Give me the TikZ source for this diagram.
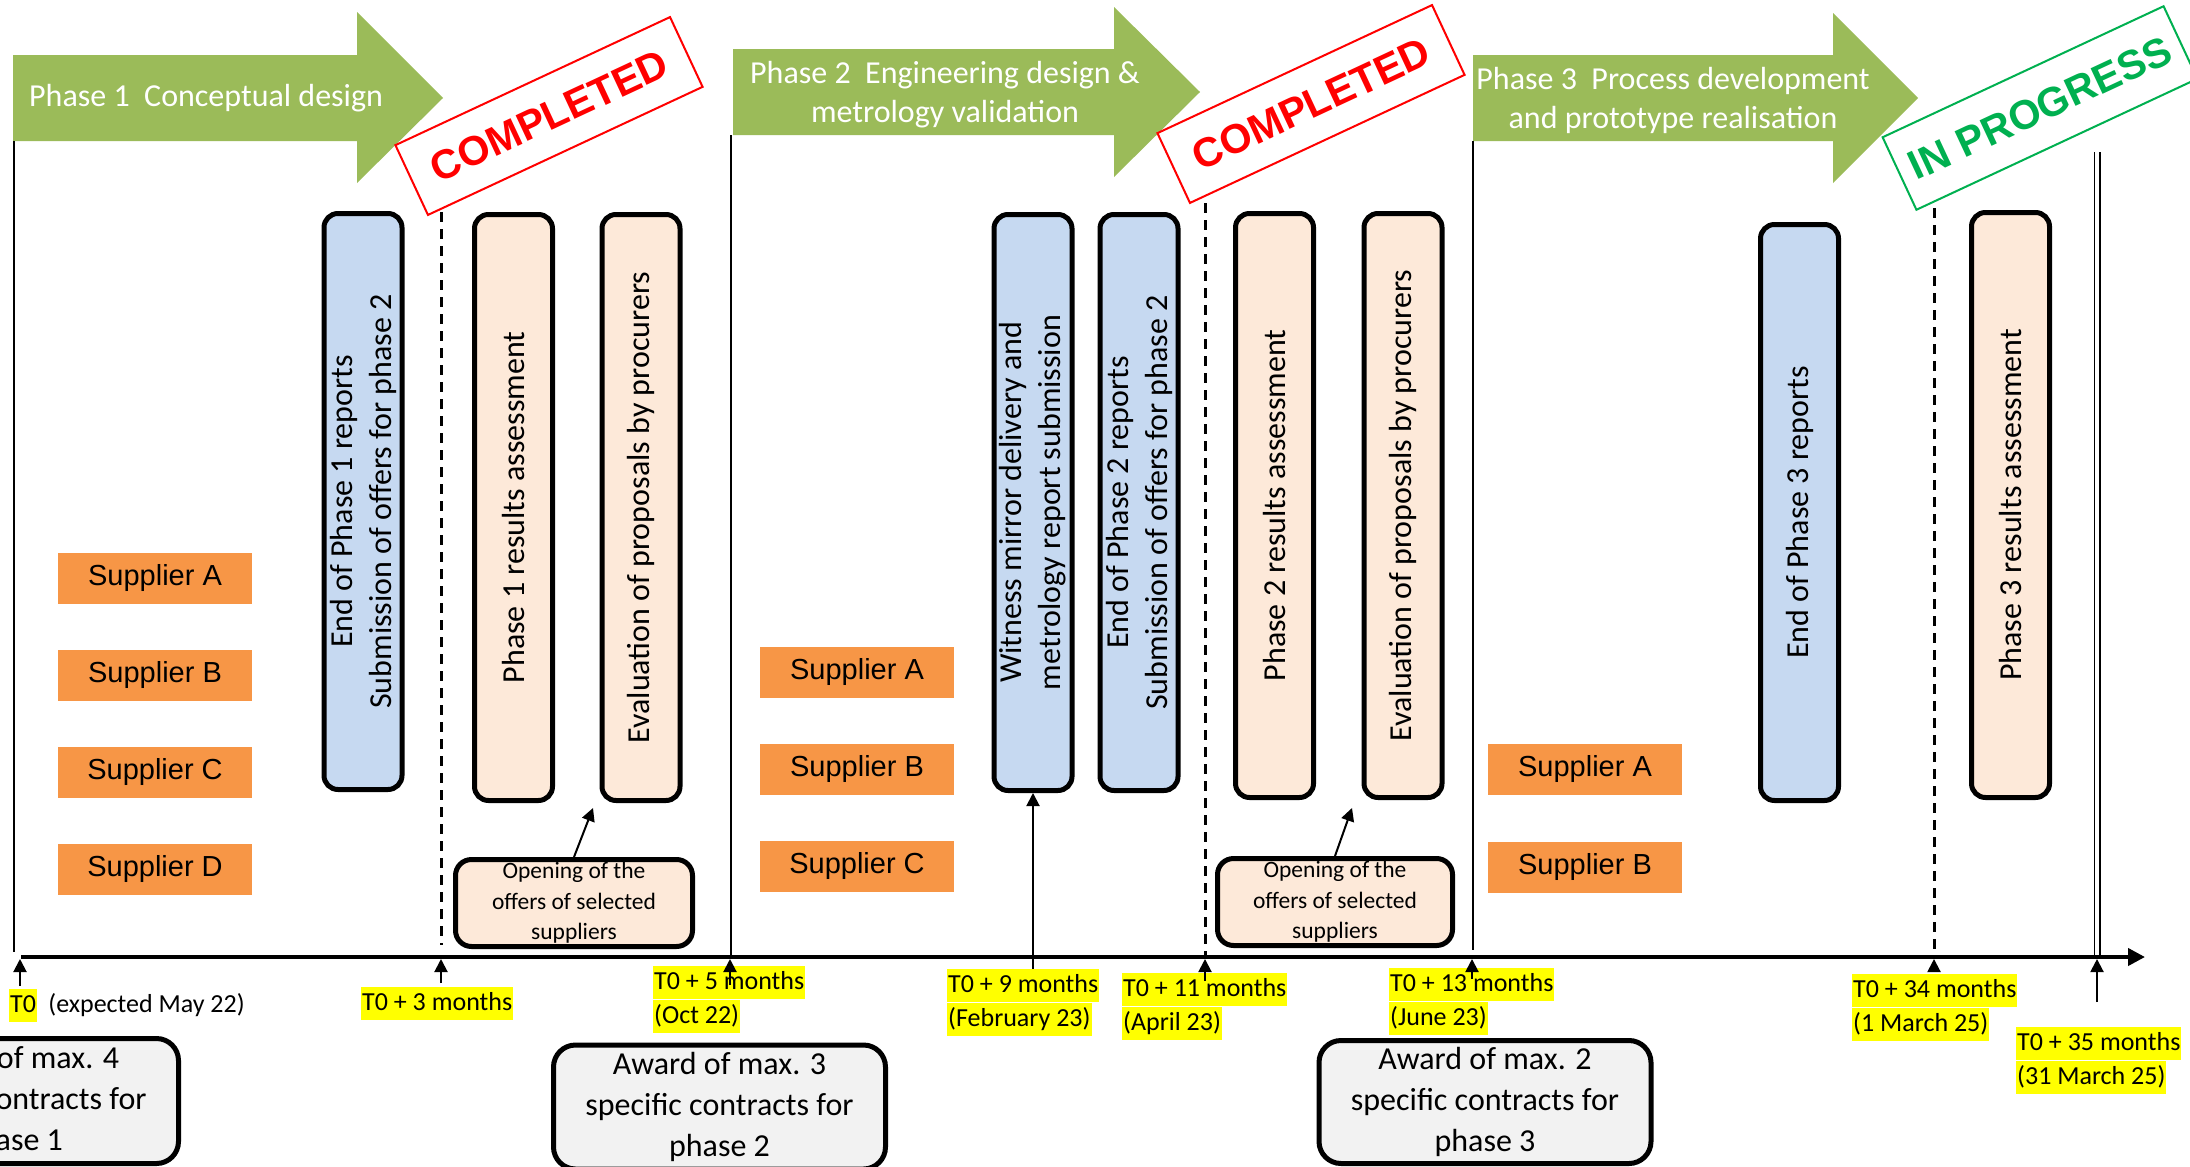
\documentclass[tikz,border=0pt]{standalone}
\usepackage{fontspec}
\setmainfont{Carlito}
\newfontfamily\arialfont{Liberation Sans}
\usetikzlibrary{arrows.meta,positioning,calc}
\definecolor{phasegreen}{HTML}{9BBB59}
\definecolor{supplierorange}{HTML}{F79646}
\definecolor{reportblue}{HTML}{C6D9F1}
\definecolor{peach}{HTML}{FDE9D9}
\definecolor{awardgray}{HTML}{F2F2F2}
\definecolor{stampred}{HTML}{FF0000}
\definecolor{stampgreen}{HTML}{00B050}
\definecolor{marker}{HTML}{FFFF00}
\tikzset{
  every node/.style={font=\fontsize{32}{39}\selectfont},
  phase/.style={fill=phasegreen},
  phasetxt/.style={text=white, align=center, inner sep=0pt},
  stamp/.style={draw=#1, text=#1, fill=white, line width=2pt, rotate=25,
                minimum width=303pt, minimum height=77pt, inner sep=0pt,
                font=\arialfont\bfseries\fontsize{41}{41}\selectfont},
  tallbox/.style={draw, line width=5pt, rounded corners=14pt, rotate=90,
                  align=center, minimum height=78pt, inner sep=0pt},
  report/.style={tallbox, fill=reportblue},
  review/.style={tallbox, fill=peach},
  supplier/.style={fill=supplierorange, minimum width=194pt, minimum height=51pt,
                   inner sep=0pt, font=\arialfont\fontsize{29}{35}\selectfont},
  opening/.style={draw, line width=5pt, fill=peach, rounded corners=16pt, align=center,
                  minimum width=237pt, minimum height=87pt, inner sep=0pt,
                  font=\fontsize{23.5}{30.5}\selectfont},
  award/.style={draw, line width=5pt, fill=awardgray, rounded corners=22pt, align=center,
                minimum width=332pt, inner sep=0pt, font=\fontsize{32}{41}\selectfont},
  hl/.style={fill=marker, anchor=north west, inner xsep=1pt, inner ysep=0.5pt,
             text height=23pt, text depth=9pt, font=\fontsize{26}{32}\selectfont},
  note/.style={inner sep=0pt, font=\fontsize{26}{32}\selectfont},
  tickarrow/.style={-{Triangle[length=13pt,width=13pt]}, line width=2pt},
  gate/.style={line width=3pt, dash pattern=on 10pt off 7pt},
  bound/.style={line width=1.5pt},
}

\begin{document}
\begin{tikzpicture}[x=1pt, y=-1pt]
  \useasboundingbox (0,0) rectangle (2190,1167);
  \clip (0,0) rectangle (2190,1167);

  % phase arrows
  \fill[phase] (13,55) -- (357,55) -- (357,12) -- (443,98) -- (357,183) -- (357,141) -- (13,141) -- cycle;
  \fill[phase] (733,49) -- (1114,49) -- (1114,7) -- (1200,92) -- (1114,177) -- (1114,135) -- (733,135) -- cycle;
  \fill[phase] (1473,55) -- (1833,55) -- (1833,13) -- (1918,98) -- (1833,183) -- (1833,141) -- (1473,141) -- cycle;
  \node[phasetxt, anchor=west] (p1) at (29,98) {Phase 1\ \ Conceptual design};
  \node[phasetxt] (p2) at (945,95) {Phase 2\ \ Engineering design \&\\metrology validation};
  \node[phasetxt] (p3) at (1673,100) {Phase 3\ \ Process development\\and prototype realisation};

  % phase boundaries and gates
  \draw[bound] (14,141) -- (14,952);
  \draw[bound] (731,135) -- (731,957);
  \draw[bound] (1473,141) -- (1473,950);
  \draw[gate] (441,212) -- (441,945);
  \draw[gate] (1205,203) -- (1205,955);
  \draw[gate] (1934,208) -- (1934,950);
  \draw[double, double distance=4pt, line width=1.5pt] (2097,152) -- (2097,957);

  % status stamps
  \node[stamp=stampred] (done1) at (549,116) {COMPLETED};
  \node[stamp=stampred] (done2) at (1311,104) {COMPLETED};
  \node[stamp=stampgreen, minimum width=310pt, minimum height=80pt] (wip) at (2040,108) {IN PROGRESS};

  % milestones
  \node[report, minimum width=576pt] (rep1) at (363,501.5) {End of Phase 1 reports\\Submission of offers for phase 2};
  \node[review, minimum width=586pt] (res1) at (513.5,507.5) {Phase 1 results assessment};
  \node[review, minimum width=586pt] (eval1) at (641,507.5) {Evaluation of proposals by procurers};
  \node[report, minimum width=576pt] (wit) at (1033,502.5) {Witness mirror delivery and\\metrology report submission};
  \node[report, minimum width=576pt] (rep2) at (1139,502.5) {End of Phase 2 reports\\Submission of offers for phase 2};
  \node[review, minimum width=584pt] (res2) at (1274.5,505.5) {Phase 2 results assessment};
  \node[review, minimum width=584pt] (eval2) at (1403,505.5) {Evaluation of proposals by procurers};
  \node[report, minimum width=576pt] (rep3) at (1799.5,512.5) {End of Phase 3 reports};
  \node[review, minimum width=585pt] (res3) at (2010.5,505) {Phase 3 results assessment};

  % suppliers
  \foreach \s [count=\i] in {A,B,C,D}
    \node[supplier] (s1\s) at (155,{578+97*(\i-1)}) {Supplier \s};
  \foreach \s [count=\i] in {A,B,C}
    \node[supplier] (s2\s) at (857,{672+97*(\i-1)}) {Supplier \s};
  \foreach \s [count=\i] in {A,B}
    \node[supplier] (s3\s) at (1585,{769+98*(\i-1)}) {Supplier \s};

  % opening of offers
  \node[opening] (opn1) at (574,903) {Opening of the\\offers of selected\\suppliers};
  \node[opening, minimum width=235pt] (opn2) at (1335,902) {Opening of the\\offers of selected\\suppliers};
  \coordinate (eval1tip) at (593,808);
  \coordinate (eval2tip) at (1352,808);
  \draw[tickarrow] (opn1.north) -- (eval1tip);
  \draw[tickarrow] (opn2.north) -- (eval2tip);

  % awards
  \node[award, minimum height=125pt] (aw1) at (12.5,1101) {Award of max. 4\\specific contracts for\\phase 1};
  \node[award, minimum height=124pt] (aw2) at (719.5,1107) {Award of max. 3\\specific contracts for\\phase 2};
  \node[award, minimum height=123pt] (aw3) at (1485,1102) {Award of max. 2\\specific contracts for\\phase 3};

  % time line
  \coordinate (tlstart) at (21,957);
  \coordinate (tlend) at (2145,957);
  \draw[line width=4pt, -{Triangle[length=17pt,width=17pt]}] (tlstart) -- (tlend);

  % dates
  \node[hl] (t0) at (9,989) {T0};
  \node[note, anchor=base west] (t0note) at ([xshift=11pt]t0.base east) {(expected May 22)};
  \node[hl] (t3) at (361,987) {T0 + 3 months};
  \node[hl] (t5a) at (653,966) {T0 + 5 months};
  \node[hl] (t5b) at (t5a.south west) {(Oct 22)};
  \node[hl] (t9a) at (947,969) {T0 + 9 months};
  \node[hl] (t9b) at (t9a.south west) {(February 23)};
  \node[hl] (t11a) at (1122,973) {T0 + 11 months};
  \node[hl] (t11b) at (t11a.south west) {(April 23)};
  \node[hl] (t13a) at (1389,968) {T0 + 13 months};
  \node[hl] (t13b) at (t13a.south west) {(June 23)};
  \node[hl] (t34a) at (1852,974) {T0 + 34 months};
  \node[hl] (t34b) at (t34a.south west) {(1 March 25)};
  \node[hl] (t35a) at (2016,1027) {T0 + 35 months};
  \node[hl] (t35b) at (t35a.south west) {(31 March 25)};

  % ticks
  \foreach \m/\x/\y in {0/20/986, 3/441/983, 5/730/985, 11/1205/981, 13/1472/979, 34/1934/970, 35/2097/1002} {
    \coordinate (m\m) at (\x,959);
    \draw[tickarrow] (\x,\y) -- (m\m);
  }
  \draw[tickarrow] (wit.west |- t9a.north) -- (wit.west);
\end{tikzpicture}
\end{document}
